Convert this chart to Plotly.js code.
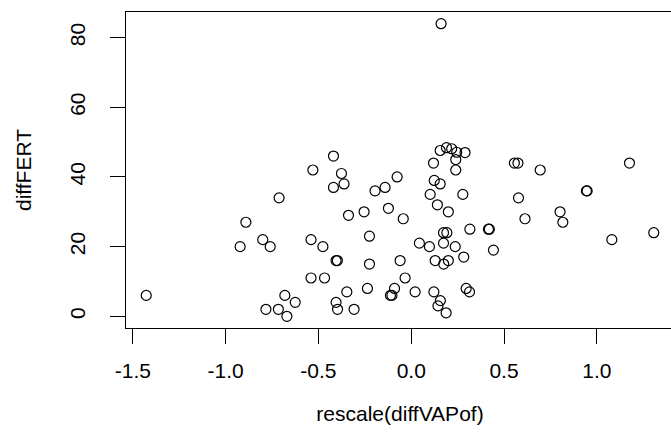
<!DOCTYPE html>
<html>
<head>
<meta charset="utf-8">
<script src="https://cdn.plot.ly/plotly-3.0.1.min.js"></script>
<style>
html, body { margin: 0; padding: 0; overflow: hidden; background: #ffffff; }
#chart { width: 684px; height: 447px; }
</style>
</head>
<body>
<div id="chart"></div>
<script>
// rescale(diffVAPof)
var diffVAPof = [
  0.161, -1.428, -0.922, -0.891, -0.800, -0.760, -0.712, -0.783, -0.716, -0.670,
  -0.681, -0.625, -0.530, -0.540, -0.476, -0.540, -0.467, -0.419, -0.376, -0.419,
  -0.362, -0.338, -0.405, -0.398, -0.405, -0.397, -0.347, -0.308, -0.254, -0.225,
  -0.225, -0.236, -0.195, -0.141, -0.123, -0.076, -0.043, -0.060, -0.033, -0.090,
  -0.112, -0.104, 0.021, 0.044, 0.098, 0.102, 0.120, 0.124, 0.156, 0.141,
  0.200, 0.174, 0.192, 0.174, 0.237, 0.283, 0.129, 0.200, 0.175, 0.122,
  0.157, 0.144, 0.188, 0.296, 0.314, 0.316, 0.278, 0.240, 0.240, 0.156,
  0.190, 0.218, 0.245, 0.290, 0.416, 0.421, 0.443, 0.556, 0.575, 0.695,
  1.176, 0.944, 0.948, 0.578, 0.613, 0.802, 0.817, 1.081, 1.307
];
// diffFERT
var diffFERT = [
  84, 6, 20, 27, 22, 20, 34, 2, 2, 0,
  6, 4, 42, 22, 20, 11, 11, 46, 41, 37,
  38, 29, 16, 16, 4, 2, 7, 2, 30, 23,
  15, 8, 36, 37, 31, 40, 28, 16, 11, 8,
  6, 6, 7, 21, 20, 35, 44, 39, 38, 32,
  30, 24, 24, 21, 20, 17, 16, 16, 15, 7,
  4.5, 3, 1, 8, 7, 25, 35, 45, 42, 47.6,
  48.4, 48.1, 47.1, 47, 25, 25, 19, 44, 44, 42,
  44, 36, 36, 34, 28, 30, 27, 22, 24
];
var xTickVals = [-1.5, -1.0, -0.5, 0.0, 0.5, 1.0];
var xTickText = ["-1.5", "-1.0", "-0.5", "0.0", "0.5", "1.0"];
var yTickVals = [0, 20, 40, 60, 80];
var yTickText = ["0", "20", "40", "60", "80"];

var fontFam = "Liberation Sans, Arial, Helvetica, sans-serif";

var trace = {
  x: diffVAPof,
  y: diffFERT,
  type: "scatter",
  mode: "markers",
  marker: {
    symbol: "circle-open",
    size: 10,
    color: "#000000",
    line: { width: 1.2, color: "#000000" }
  },
  hoverinfo: "x+y"
};

var layout = {
  width: 684,
  height: 447,
  margin: { l: 126, r: 10, t: 12, b: 119, pad: 0 },
  paper_bgcolor: "#ffffff",
  plot_bgcolor: "#ffffff",
  showlegend: false,
  font: { family: fontFam, size: 21, color: "#000000" },
  xaxis: {
    range: [-1.537, 1.416],
    tickmode: "array",
    tickvals: xTickVals,
    ticktext: xTickText,
    ticks: "outside",
    ticklen: 15,
    tickwidth: 1,
    tickcolor: "#000000",
    ticklabelstandoff: 9,
    showgrid: false,
    zeroline: false,
    showline: true,
    mirror: true,
    linecolor: "#000000",
    linewidth: 1,
    tickfont: { family: fontFam, size: 21, color: "#000000" },
    title: { text: "rescale(diffVAPof)", font: { family: fontFam, size: 21, color: "#000000" }, standoff: 25 }
  },
  yaxis: {
    range: [-3.36, 87.36],
    tickmode: "array",
    tickvals: yTickVals,
    ticktext: yTickText,
    tickangle: -90,
    ticks: "outside",
    ticklen: 15,
    tickwidth: 1,
    tickcolor: "#000000",
    ticklabelstandoff: 17,
    showgrid: false,
    zeroline: false,
    showline: true,
    mirror: true,
    linecolor: "#000000",
    linewidth: 1,
    tickfont: { family: fontFam, size: 21, color: "#000000" },
    title: { text: "diffFERT", font: { family: fontFam, size: 21, color: "#000000" }, standoff: 28 }
  }
};

Plotly.newPlot("chart", [trace], layout, { displayModeBar: false, staticPlot: true });
</script>
</body>
</html>
